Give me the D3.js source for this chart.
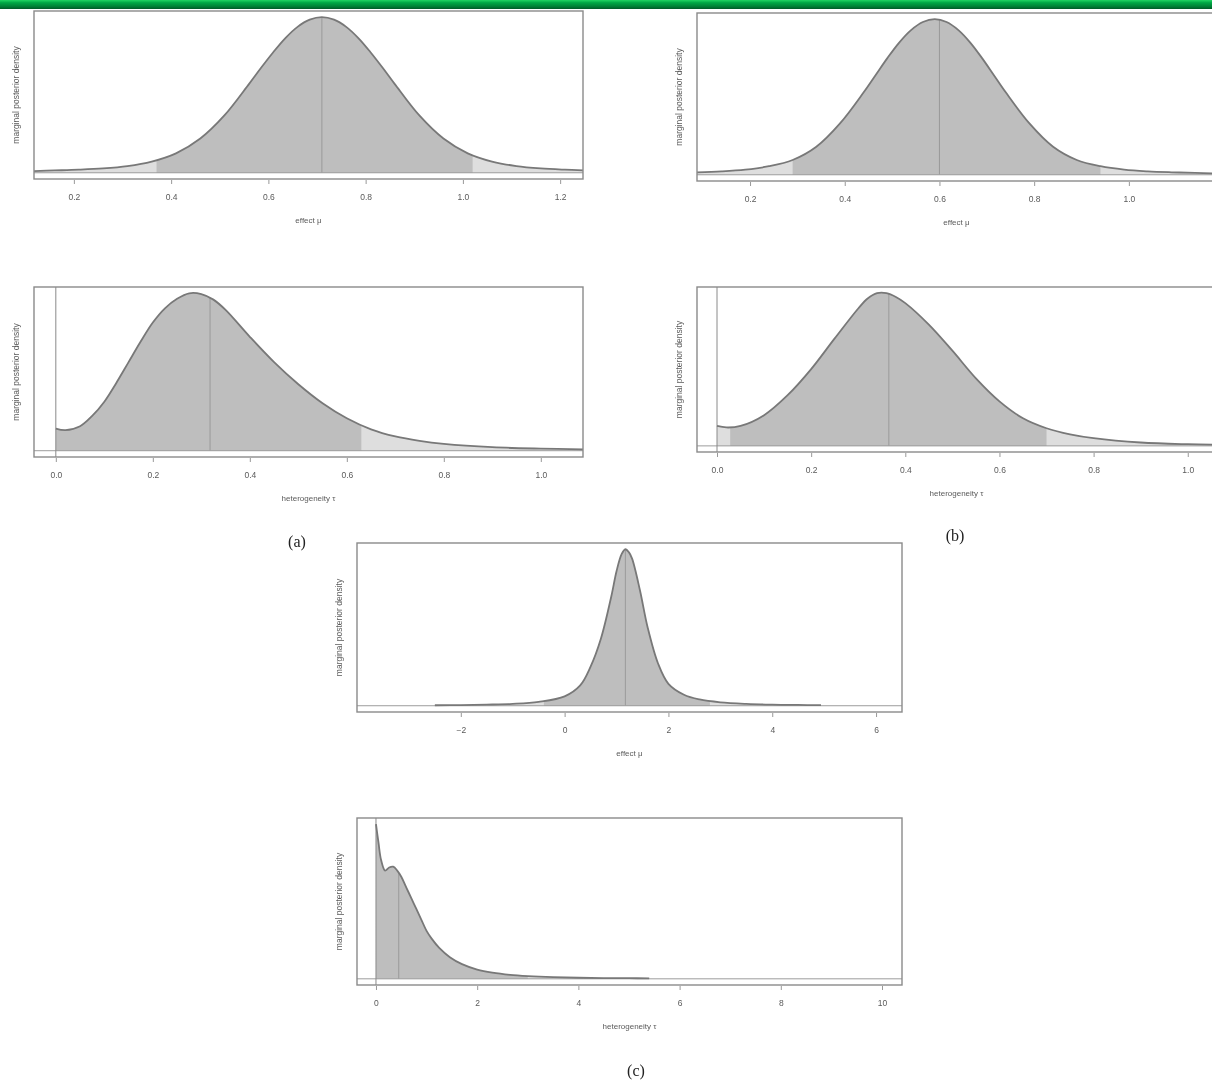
<!DOCTYPE html>
<html>
<head>
<meta charset="utf-8">
<script src="https://cdn.jsdelivr.net/npm/d3@7"></script>
<style>
  body { margin: 0; background: #fff; }
  svg { display: block; filter: blur(0.6px); }
  text { font-family: "Liberation Sans", Arial, sans-serif; fill: #5a5a5a; }
  .letter { font-family: "Liberation Serif", "Times New Roman", serif; fill: #222; font-size: 16px; }
</style>
</head>
<body>
<svg id="chart" width="1212" height="1082"></svg>
<script>
// (a) effect mu
const muA = [0.118, 0.16, 0.21, 0.26, 0.31, 0.36, 0.41, 0.46, 0.51, 0.56, 0.585, 0.61, 0.635, 0.66, 0.685, 0.71, 0.735, 0.76, 0.785, 0.81, 0.835, 0.86, 0.91, 0.96, 1.01, 1.06, 1.11, 1.16, 1.21, 1.247];
const densMuA = [0.011, 0.015, 0.02, 0.028, 0.043, 0.072, 0.125, 0.22, 0.37, 0.57, 0.675, 0.775, 0.866, 0.938, 0.984, 1.0, 0.984, 0.938, 0.866, 0.775, 0.675, 0.57, 0.37, 0.22, 0.125, 0.072, 0.043, 0.028, 0.02, 0.016];
// (a) heterogeneity tau
const tauA = [0, 0.02, 0.05, 0.075, 0.1, 0.125, 0.15, 0.175, 0.2, 0.225, 0.25, 0.275, 0.3, 0.325, 0.35, 0.4, 0.45, 0.5, 0.55, 0.6, 0.65, 0.7, 0.75, 0.8, 0.9, 1.0, 1.087];
const densTauA = [0.14, 0.13, 0.155, 0.22, 0.31, 0.43, 0.56, 0.69, 0.81, 0.9, 0.96, 0.995, 0.99, 0.955, 0.89, 0.72, 0.56, 0.42, 0.30, 0.205, 0.135, 0.09, 0.062, 0.043, 0.022, 0.013, 0.009];
// (b) effect mu
const muB = [0.088, 0.14, 0.19, 0.24, 0.29, 0.34, 0.39, 0.44, 0.465, 0.49, 0.515, 0.54, 0.565, 0.59, 0.615, 0.64, 0.665, 0.69, 0.715, 0.74, 0.79, 0.84, 0.89, 0.94, 0.99, 1.04, 1.09, 1.14, 1.184];
const densMuB = [0.016, 0.022, 0.033, 0.055, 0.095, 0.18, 0.33, 0.53, 0.64, 0.75, 0.85, 0.93, 0.982, 1.0, 0.982, 0.93, 0.85, 0.75, 0.64, 0.53, 0.33, 0.18, 0.095, 0.055, 0.033, 0.022, 0.016, 0.012, 0.009];
// (b) heterogeneity tau
const tauB = [0, 0.02, 0.05, 0.1, 0.15, 0.2, 0.25, 0.3, 0.32, 0.34, 0.36, 0.38, 0.4, 0.45, 0.5, 0.55, 0.6, 0.65, 0.7, 0.75, 0.8, 0.9, 1.0, 1.06];
const densTauB = [0.13, 0.12, 0.13, 0.2, 0.33, 0.5, 0.70, 0.895, 0.96, 0.995, 0.995, 0.97, 0.93, 0.79, 0.62, 0.44, 0.29, 0.18, 0.115, 0.075, 0.05, 0.022, 0.011, 0.008];
// (c) effect mu
const muC = [-2.5, -2, -1.5, -1, -0.5, 0, 0.3, 0.5, 0.7, 0.9, 1.0, 1.1, 1.17, 1.24, 1.3, 1.45, 1.6, 1.8, 2.0, 2.3, 2.6, 3, 3.5, 4, 4.5, 4.94];
const densMuC = [0.003, 0.004, 0.007, 0.012, 0.025, 0.06, 0.13, 0.25, 0.43, 0.70, 0.86, 0.97, 1.0, 0.98, 0.94, 0.74, 0.50, 0.27, 0.14, 0.07, 0.04, 0.022, 0.012, 0.007, 0.005, 0.004];
// (c) heterogeneity tau
const tauC = [0, 0.05, 0.1, 0.18, 0.26, 0.34, 0.42, 0.5, 0.6, 0.7, 0.8, 0.9, 1.0, 1.1, 1.25, 1.46, 1.7, 2.0, 2.3, 2.65, 3.0, 3.5, 4.0, 4.5, 5.0, 5.4];
const densTauC = [1.0, 0.88, 0.77, 0.70, 0.72, 0.725, 0.70, 0.66, 0.59, 0.52, 0.45, 0.38, 0.31, 0.26, 0.20, 0.14, 0.095, 0.06, 0.04, 0.026, 0.018, 0.011, 0.007, 0.005, 0.004, 0.003];

// axis ticks, 95% intervals and medians
const ticksMuA = [0.2, 0.4, 0.6, 0.8, 1.0, 1.2];
const ticksMuB = [0.2, 0.4, 0.6, 0.8, 1.0];
const ticksTau = [0.0, 0.2, 0.4, 0.6, 0.8, 1.0];
const ticksMuC = [-2, 0, 2, 4, 6];
const ticksTauC = [0, 2, 4, 6, 8, 10];
const intervals = { muA: [0.37, 1.02], tauA: [0.0, 0.63], muB: [0.29, 0.94], tauB: [0.028, 0.70], muC: [-0.4, 2.8], tauC: [0.0, 3.0] };
const medians = { muA: 0.71, tauA: 0.318, muB: 0.60, tauB: 0.365, muC: 1.17, tauC: 0.45 };

const panels = [
  { key: 'muA', xs: muA, ds: densMuA, range: [0.118, 1.247], ticks: ticksMuA, fmt: d3.format('.1f'), label: 'effect μ', left: 34, top: 11, width: 549, height: 168 },
  { key: 'tauA', xs: tauA, ds: densTauA, range: [-0.045, 1.087], ticks: ticksTau, fmt: d3.format('.1f'), label: 'heterogeneity τ', left: 34, top: 287, width: 549, height: 170, zero: true },
  { key: 'muB', xs: muB, ds: densMuB, range: [0.088, 1.184], ticks: ticksMuB, fmt: d3.format('.1f'), label: 'effect μ', left: 697, top: 13, width: 519, height: 168 },
  { key: 'tauB', xs: tauB, ds: densTauB, range: [-0.0425, 1.06], ticks: ticksTau, fmt: d3.format('.1f'), label: 'heterogeneity τ', left: 697, top: 287, width: 519, height: 165, zero: true },
  { key: 'muC', xs: muC, ds: densMuC, range: [-4.0, 6.5], ticks: ticksMuC, fmt: d3.format('d'), label: 'effect μ', left: 357, top: 543, width: 545, height: 169 },
  { key: 'tauC', xs: tauC, ds: densTauC, range: [-0.375, 10.395], ticks: ticksTauC, fmt: d3.format('d'), label: 'heterogeneity τ', left: 357, top: 818, width: 545, height: 167, zero: true }
];

const svg = d3.select('#chart');

// green banner on top
const grad = svg.append('defs').append('linearGradient')
  .attr('id', 'banner').attr('x1', 0).attr('y1', 0).attr('x2', 0).attr('y2', 1);
grad.append('stop').attr('offset', '0%').attr('stop-color', '#22d463');
grad.append('stop').attr('offset', '30%').attr('stop-color', '#00a845');
grad.append('stop').attr('offset', '70%').attr('stop-color', '#008236');
grad.append('stop').attr('offset', '100%').attr('stop-color', '#005a27');
svg.append('rect').attr('x', 0).attr('y', 0).attr('width', 1212).attr('height', 9).attr('fill', 'url(#banner)');

panels.forEach(drawPanel);

function drawPanel(p) {
  let g = svg.append('g');
  let bottom = p.top + p.height;

  let x = d3.scaleLinear().domain(p.range).range([p.left, p.left + p.width]);
  let maxD = d3.max(p.ds);
  let y = d3.scaleLinear().domain([-0.04 * maxD, 1.04 * maxD]).range([bottom, p.top]);

  let pts = p.xs.map((v, i) => [v, p.ds[i]]);
  let smooth = d3.curveCatmullRom.alpha(0.5);
  let area = d3.area()
    .x(d => x(d[0]))
    .y0(y(0))
    .y1(d => y(d[1]))
    .curve(smooth);
  let line = d3.line()
    .x(d => x(d[0]))
    .y(d => y(d[1]))
    .curve(smooth);

  let defs = svg.select('defs');
  defs.append('clipPath').attr('id', 'area-' + p.key)
    .append('path').attr('d', area(pts));
  let ci = intervals[p.key];
  defs.append('clipPath').attr('id', 'ci-' + p.key)
    .append('rect')
    .attr('x', x(ci[0])).attr('y', p.top)
    .attr('width', x(ci[1]) - x(ci[0])).attr('height', p.height);

  // tails
  g.append('path').attr('d', area(pts)).attr('fill', '#dedede');
  // central interval
  g.append('path').attr('d', area(pts)).attr('fill', '#bebebe')
    .attr('clip-path', 'url(#ci-' + p.key + ')');

  // median
  g.append('line')
    .attr('x1', x(medians[p.key])).attr('x2', x(medians[p.key]))
    .attr('y1', p.top).attr('y2', y(0))
    .attr('stroke', '#9a9a9a').attr('stroke-width', 1)
    .attr('clip-path', 'url(#area-' + p.key + ')');

  // zero lines
  g.append('line')
    .attr('x1', p.left).attr('x2', p.left + p.width)
    .attr('y1', y(0)).attr('y2', y(0))
    .attr('stroke', '#9c9c9c').attr('stroke-width', 1);
  if (p.zero) {
    g.append('line')
      .attr('x1', x(0)).attr('x2', x(0))
      .attr('y1', p.top).attr('y2', bottom)
      .attr('stroke', '#8a8a8a').attr('stroke-width', 1);
  }

  // density curve
  g.append('path').attr('d', line(pts))
    .attr('fill', 'none').attr('stroke', '#787878').attr('stroke-width', 1.8);

  // box
  g.append('rect')
    .attr('x', p.left).attr('y', p.top)
    .attr('width', p.width).attr('height', p.height)
    .attr('fill', 'none').attr('stroke', '#8a8a8a').attr('stroke-width', 1.4);

  // x axis
  let ax = g.append('g')
    .attr('transform', `translate(0,${bottom + 1})`)
    .call(d3.axisBottom(x).tickValues(p.ticks).tickFormat(p.fmt).tickSize(4).tickPadding(10));
  ax.select('.domain').remove();
  ax.selectAll('.tick line').attr('stroke', '#999');
  ax.selectAll('.tick text').attr('font-size', 8.5).attr('fill', '#5a5a5a')
    .style('font-family', '"Liberation Sans", Arial, sans-serif');

  g.append('text')
    .attr('x', p.left + p.width / 2).attr('y', bottom + 44)
    .attr('text-anchor', 'middle').attr('font-size', 8)
    .text(p.label);

  g.append('text')
    .attr('transform', `translate(${p.left - 15},${p.top + p.height / 2}) rotate(-90)`)
    .attr('text-anchor', 'middle').attr('font-size', 8.5)
    .text('marginal posterior density');
}

// sub-figure letters
const letters = [['(a)', 297, 547], ['(b)', 955, 541], ['(c)', 636, 1076]];
svg.selectAll('text.letter')
  .data(letters)
  .enter().append('text')
  .attr('class', 'letter')
  .attr('x', d => d[1]).attr('y', d => d[2])
  .attr('text-anchor', 'middle')
  .text(d => d[0]);
</script>
</body>
</html>
